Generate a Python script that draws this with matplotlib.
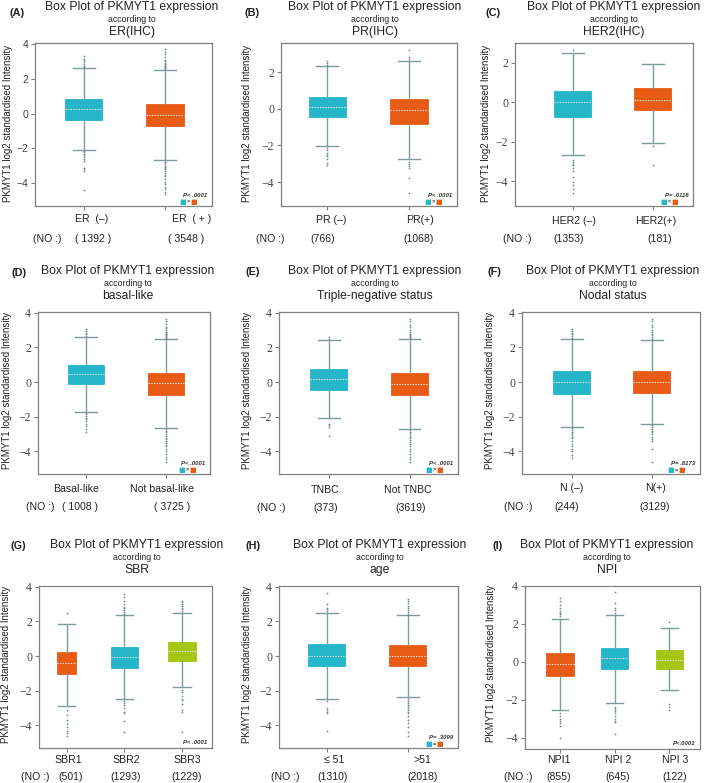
import matplotlib
matplotlib.use("Agg")
import matplotlib.pyplot as plt

# ---------------- data ----------------
A_labels = ["ER  (–)", "ER  ( + )"]
A_counts = ["( 1392 )", "( 3548 )"]
A_q1 = [-0.35, -0.71]
A_med = [0.25, -0.08]
A_q3 = [0.86, 0.56]
A_lo = [-2.06, -2.65]
A_hi = [2.60, 2.50]
A_fliers = [
    [2.68, 2.75, 2.85, 2.95, 3.05, 3.15, 3.30, -2.15, -2.20, -2.30, -2.40, -2.50, -2.60, -2.70, -3.10, -3.20, -3.30, -4.40],
    [2.55, 2.60, 2.65, 2.70, 2.75, 2.80, 2.85, 2.90, 3.00, 3.10, 3.25, 3.40, 3.55, 3.70,
     -2.75, -2.80, -2.90, -3.00, -3.05, -3.10, -3.20, -3.30, -3.40, -3.50, -3.60, -3.75, -3.90, -4.05, -4.20, -4.35, -4.50, -4.60],
]

B_labels = ["PR (–)", "PR(+)"]
B_counts = ["(766)", "(1068)"]
B_q1 = [-0.45, -0.82]
B_med = [0.08, -0.05]
B_q3 = [0.64, 0.53]
B_lo = [-2.05, -2.76]
B_hi = [2.30, 2.58]
B_fliers = [
    [2.40, 2.50, 2.60, -2.15, -2.25, -2.40, -2.50, -2.60, -2.75, -2.95, -3.05],
    [2.70, 2.80, 3.20, -2.90, -3.00, -3.10, -3.25, -3.80, -4.60],
]

C_labels = ["HER2 (–)", "HER2(+)"]
C_counts = ["(1353)", "(181)"]
C_q1 = [-0.73, -0.39]
C_med = [0.00, 0.13]
C_q3 = [0.59, 0.73]
C_lo = [-2.68, -2.05]
C_hi = [2.49, 1.95]
C_fliers = [
    [2.65, -2.90, -3.00, -3.10, -3.20, -3.35, -3.50, -3.80, -4.05, -4.20, -4.40, -4.60],
    [-2.20, -3.20],
]

D_labels = ["Basal-like", "Not basal-like"]
D_counts = ["( 1008 )", "( 3725 )"]
D_q1 = [-0.13, -0.74]
D_med = [0.44, -0.08]
D_q3 = [0.99, 0.51]
D_lo = [-1.70, -2.65]
D_hi = [2.59, 2.46]
D_fliers = [
    [2.65, 2.75, 2.85, 2.95, 3.05, -1.80, -1.85, -1.95, -2.05, -2.15, -2.25, -2.40, -2.55, -2.70, -2.85],
    [2.50, 2.55, 2.60, 2.65, 2.70, 2.75, 2.80, 2.85, 2.90, 3.00, 3.10, 3.20, 3.35, 3.50, 3.65,
     -2.70, -2.80, -2.90, -3.00, -3.10, -3.20, -3.30, -3.40, -3.50, -3.60, -3.70, -3.85, -4.00, -4.15, -4.30, -4.45, -4.60],
]

E_labels = ["TNBC", "Not TNBC"]
E_counts = ["(373)", "(3619)"]
E_q1 = [-0.43, -0.74]
E_med = [0.15, -0.10]
E_q3 = [0.74, 0.54]
E_lo = [-2.10, -2.70]
E_hi = [2.40, 2.48]
E_fliers = [
    [2.50, 2.60, -2.40, -2.50, -2.60, -3.10],
    [2.55, 2.60, 2.65, 2.70, 2.75, 2.80, 2.90, 3.00, 3.15, 3.30, 3.50, 3.65,
     -2.75, -2.85, -2.95, -3.05, -3.15, -3.25, -3.35, -3.45, -3.55, -3.70, -3.85, -4.00, -4.15, -4.30, -4.45, -4.60],
]

F_labels = ["N (–)", "N(+)"]
F_counts = ["(244)", "(3129)"]
F_q1 = [-0.67, -0.62]
F_med = [0.00, 0.02]
F_q3 = [0.62, 0.62]
F_lo = [-2.58, -2.44]
F_hi = [2.46, 2.42]
F_fliers = [
    [2.55, 2.65, 2.75, 2.85, 2.95, 3.05, -2.65, -2.75, -2.85, -2.95, -3.05, -3.15, -3.25, -3.40, -3.55, -3.70, -3.85, -4.00, -4.20, -4.35],
    [2.50, 2.60, 2.70, 2.80, 2.90, 3.00, 3.15, 3.30, 3.50, 3.65, -2.50, -2.60, -2.70, -2.80, -2.90, -3.00, -3.15, -3.30, -3.40, -3.85, -4.60],
]

G_labels = ["SBR1", "SBR2", "SBR3"]
G_counts = ["(501)", "(1293)", "(1229)"]
G_q1 = [-1.01, -0.67, -0.27]
G_med = [-0.38, -0.08, 0.32]
G_q3 = [0.21, 0.51, 0.84]
G_lo = [-2.86, -2.50, -1.81]
G_hi = [1.87, 2.34, 2.50]
G_fliers = [
    [2.50, -3.10, -3.40, -3.70, -3.90, -4.10, -4.30, -4.45, -4.60],
    [2.45, 2.55, 2.65, 2.75, 2.85, 3.00, 3.20, 3.40, 3.60, -2.60, -2.70, -2.80, -3.00, -3.20, -3.30, -3.75, -4.35],
    [2.60, 2.70, 2.80, 2.90, 3.00, 3.10, 3.20, -1.95, -2.10, -2.30, -2.45, -2.55, -2.75, -3.10, -3.25, -4.40],
]

H_labels = ["≤ 51", ">51"]
H_counts = ["(1310)", "(2018)"]
H_q1 = [-0.57, -0.59]
H_med = [0.00, 0.00]
H_q3 = [0.67, 0.61]
H_lo = [-2.48, -2.38]
H_hi = [2.48, 2.38]
H_fliers = [
    [2.60, 2.70, 2.80, 3.00, 3.65, -2.60, -3.00, -3.10, -3.20, -3.30, -4.30],
    [2.45, 2.55, 2.65, 2.75, 2.90, 3.05, 3.20, 3.30, -2.50, -2.60, -2.70, -2.80, -2.90, -3.00, -3.10, -3.20, -3.30, -3.45, -3.70, -3.85, -4.10, -4.35, -4.60],
]

I_labels = ["NPI1", "NPI 2", "NPI 3"]
I_counts = ["(855)", "(645)", "(122)"]
I_q1 = [-0.74, -0.40, -0.39]
I_med = [-0.12, 0.18, 0.09]
I_q3 = [0.47, 0.75, 0.61]
I_lo = [-2.54, -2.16, -1.49]
I_hi = [2.25, 2.49, 1.79]
I_fliers = [
    [2.40, 2.50, 2.60, 2.70, 2.85, 3.00, 3.20, 3.35, -2.70, -2.85, -3.00, -3.10, -3.25, -3.40, -4.00],
    [2.60, 2.75, 2.85, 3.10, 3.70, -2.40, -2.50, -2.60, -2.70, -2.85, -3.00, -3.10, -3.20, -3.80],
    [2.10, -2.25, -2.40, -2.55],
]

subtitles = ["ER(IHC)", "PR(IHC)", "HER2(IHC)", "basal-like", "Triple-negative status",
             "Nodal status", "SBR", "age", "NPI"]
p_texts = ["P< .0001", "P< .0001", "P= .0118", "P< .0001", "P< .0001", "P= .8173",
           "P< .0001", "P= .3099", "P<.0001"]
p_signs = [">", ">", "<", ">", ">", "=", None, "=", None]

# ---------------- style ----------------
TEAL = "#25b6ca"
ORANGE = "#e85b15"
GREEN = "#a6c515"
WHISK = "#7f9b9b"
SPINE = "#808080"
SANS = "Liberation Sans"
SERIF = "Liberation Serif"

W, H = 709, 783
fig = plt.figure(figsize=(W / 100, H / 100), dpi=100)
fig.patch.set_facecolor("white")


def fx(x):
    return x / W


def fy(y):
    return 1 - y / H


datasets = [
    (A_labels, A_counts, A_q1, A_med, A_q3, A_lo, A_hi, A_fliers),
    (B_labels, B_counts, B_q1, B_med, B_q3, B_lo, B_hi, B_fliers),
    (C_labels, C_counts, C_q1, C_med, C_q3, C_lo, C_hi, C_fliers),
    (D_labels, D_counts, D_q1, D_med, D_q3, D_lo, D_hi, D_fliers),
    (E_labels, E_counts, E_q1, E_med, E_q3, E_lo, E_hi, E_fliers),
    (F_labels, F_counts, F_q1, F_med, F_q3, F_lo, F_hi, F_fliers),
    (G_labels, G_counts, G_q1, G_med, G_q3, G_lo, G_hi, G_fliers),
    (H_labels, H_counts, H_q1, H_med, H_q3, H_lo, H_hi, H_fliers),
    (I_labels, I_counts, I_q1, I_med, I_q3, I_lo, I_hi, I_fliers),
]

# layout (pixels)
layouts = [
    dict(ax=(35, 43, 212, 206), xlim=(0.40, 2.58), ylim=(-5.3, 4.05), tfont=SANS,
         tx=132, ty=(7, 19, 32), letter=(17.5, 13), ylab=(8, 123),
         lab_y=219, lab_x=[92, 192], cnt_y=239, no_x=47, cnt_x=[93, 186]),
    dict(ax=(281, 43, 457, 206), xlim=(0.43, 2.59), ylim=(-5.3, 3.58), tfont=SERIF,
         tx=375, ty=(7, 19, 32), letter=(252, 13), ylab=(247, 123),
         lab_y=220, lab_x=[331, 420], cnt_y=239, no_x=270, cnt_x=[323, 419]),
    dict(ax=(515, 43, 693, 206), xlim=(0.28, 2.50), ylim=(-5.25, 3.0), tfont=SERIF,
         tx=614, ty=(7, 19, 32), letter=(493, 13), ylab=(486, 123),
         lab_y=221, lab_x=[574, 656], cnt_y=239, no_x=517, cnt_x=[569, 660]),
    dict(ax=(38, 312, 210, 474), xlim=(0.40, 2.55), ylim=(-5.3, 4.04), tfont=SERIF,
         tx=128, ty=(271, 283, 296), letter=(19, 273), ylab=(7, 390),
         lab_y=489, lab_x=[76, 162], cnt_y=507, no_x=40, cnt_x=[80, 172]),
    dict(ax=(279, 312, 458, 474), xlim=(0.385, 2.60), ylim=(-5.3, 4.04), tfont=SERIF,
         tx=375, ty=(271, 283, 296), letter=(253, 272), ylab=(247, 390),
         lab_y=490, lab_x=[325, 408], cnt_y=508, no_x=271, cnt_x=[326, 411]),
    dict(ax=(522, 312, 700, 474), xlim=(0.38, 2.60), ylim=(-5.3, 4.04), tfont=SERIF,
         tx=613, ty=(271, 283, 296), letter=(494, 272), ylab=(490, 390),
         lab_y=488, lab_x=[572, 656], cnt_y=507, no_x=518, cnt_x=[567, 655]),
    dict(ax=(39, 586, 212, 748), xlim=(0.52, 3.52), ylim=(-5.3, 4.04), tfont=SERIF,
         tx=137, ty=(545, 557, 570), letter=(18, 546), ylab=(6, 664),
         lab_y=760, lab_x=[68, 126, 187], cnt_y=777, no_x=35, cnt_x=[71, 126, 187]),
    dict(ax=(279, 586, 458, 748), xlim=(0.41, 2.62), ylim=(-5.3, 4.04), tfont=SERIF,
         tx=380, ty=(545, 557, 570), letter=(253, 546), ylab=(247, 664),
         lab_y=760, lab_x=[334, 422], cnt_y=777, no_x=285, cnt_x=[333, 423]),
    dict(ax=(525, 586, 700, 749), xlim=(0.36, 3.56), ylim=(-4.6, 4.0), tfont=SERIF,
         tx=607, ty=(545, 557, 570), letter=(498, 546), ylab=(491, 663),
         lab_y=760, lab_x=[559, 618, 675], cnt_y=777, no_x=518, cnt_x=[559, 618, 675]),
]

letters = ["(A)", "(B)", "(C)", "(D)", "(E)", "(F)", "(G)", "(H)", "(I)"]
box_widths = [[0.46, 0.46]] * 6 + [[0.34, 0.48, 0.48], [0.46, 0.46], [0.5, 0.5, 0.5]]
two_colors = [TEAL, ORANGE]
three_colors = [ORANGE, TEAL, GREEN]

for i, (data, lay) in enumerate(zip(datasets, layouts)):
    labels, counts, q1, med, q3, lo, hi, fliers = data
    l, t, r, b = lay["ax"]
    ax = fig.add_axes([fx(l), fy(b), (r - l) / W, (b - t) / H])
    n = len(labels)
    pos = list(range(1, n + 1))
    stats = [dict(med=med[k], q1=q1[k], q3=q3[k], whislo=lo[k], whishi=hi[k],
                  fliers=fliers[k]) for k in range(n)]
    colors = two_colors if n == 2 else three_colors
    caps = [0.27] * n if n == 2 else [0.3] * n
    res = ax.bxp(stats, positions=pos, widths=box_widths[i], capwidths=caps,
                 patch_artist=True, showfliers=True,
                 whiskerprops=dict(color=WHISK, lw=1.0),
                 capprops=dict(color=WHISK, lw=1.0),
                 medianprops=dict(color="#e6e6e6", lw=0.8, linestyle=(0, (1.2, 1.2))),
                 flierprops=dict(marker="o", markersize=1.3, markerfacecolor="#728d8d",
                                 markeredgecolor="none", linestyle="none"),
                 boxprops=dict(lw=0.6))
    for patch, c in zip(res["boxes"], colors):
        patch.set_facecolor(c)
        patch.set_edgecolor(c)
    ax.set_xlim(*lay["xlim"])
    ax.set_ylim(*lay["ylim"])
    ax.set_xticks(pos)
    ax.set_xticklabels([""] * n)
    yt = [v for v in [-4, -2, 0, 2, 4] if lay["ylim"][0] <= v <= lay["ylim"][1]]
    ax.set_yticks(yt)
    ax.set_yticklabels([("−%d" % -v) if v < 0 else str(v) for v in yt],
                       fontfamily=lay["tfont"], fontsize=8.5 if lay["tfont"] == SERIF else 7.5,
                       color="#444444")
    ax.tick_params(axis="both", length=3, width=0.8, color=SPINE, pad=2)
    for s in ax.spines.values():
        s.set_color(SPINE)
        s.set_linewidth(0.9)

    # p-value annotation
    if p_signs[i] is not None:
        ax.text(0.975, 0.062, p_texts[i], transform=ax.transAxes, ha="right", va="center",
                fontsize=4.3, fontweight="bold", fontstyle="italic", family=SANS, color="#333333")
        ax.text(0.835, 0.027, "■", transform=ax.transAxes, ha="center", va="center",
                fontsize=5, color=TEAL, family="DejaVu Sans")
        ax.text(0.866, 0.027, p_signs[i], transform=ax.transAxes, ha="center", va="center",
                fontsize=4, color="#333333", family=SANS, fontweight="bold")
        ax.text(0.897, 0.027, "■", transform=ax.transAxes, ha="center", va="center",
                fontsize=5, color=ORANGE, family="DejaVu Sans")
    else:
        ax.text(0.975, 0.035, p_texts[i], transform=ax.transAxes, ha="right", va="center",
                fontsize=4.3, fontweight="bold", fontstyle="italic", family=SANS, color="#333333")

    # titles
    ty1, ty2, ty3 = lay["ty"]
    fig.text(fx(lay["tx"]), fy(ty1), "Box Plot of PKMYT1 expression", ha="center", va="center",
             fontsize=8.7, family=SANS, color="#222222")
    fig.text(fx(lay["tx"]), fy(ty2), "according to", ha="center", va="center",
             fontsize=6.3, family=SANS, color="#222222")
    fig.text(fx(lay["tx"]), fy(ty3), subtitles[i], ha="center", va="center",
             fontsize=8.7, family=SANS, color="#222222")
    fig.text(fx(lay["letter"][0]), fy(lay["letter"][1]), letters[i], ha="center", va="center",
             fontsize=7.8, fontweight="bold", family=SANS, color="#222222")
    fig.text(fx(lay["ylab"][0]), fy(lay["ylab"][1]), "PKMYT1 log2 standardised Intensity",
             ha="center", va="center", rotation=90, fontsize=7.0, family=SANS, color="#222222")

    # category labels and counts
    for k in range(n):
        fig.text(fx(lay["lab_x"][k]), fy(lay["lab_y"]), labels[k], ha="center", va="center",
                 fontsize=7.6, family=[SANS, "DejaVu Sans"], color="#222222")
        fig.text(fx(lay["cnt_x"][k]), fy(lay["cnt_y"]), counts[k], ha="center", va="center",
                 fontsize=7.6, family=SANS, color="#222222")
    fig.text(fx(lay["no_x"]), fy(lay["cnt_y"]), "(NO :)", ha="center", va="center",
             fontsize=7.6, family=SANS, color="#222222")

fig.savefig("out.png", dpi=100, facecolor="white")
